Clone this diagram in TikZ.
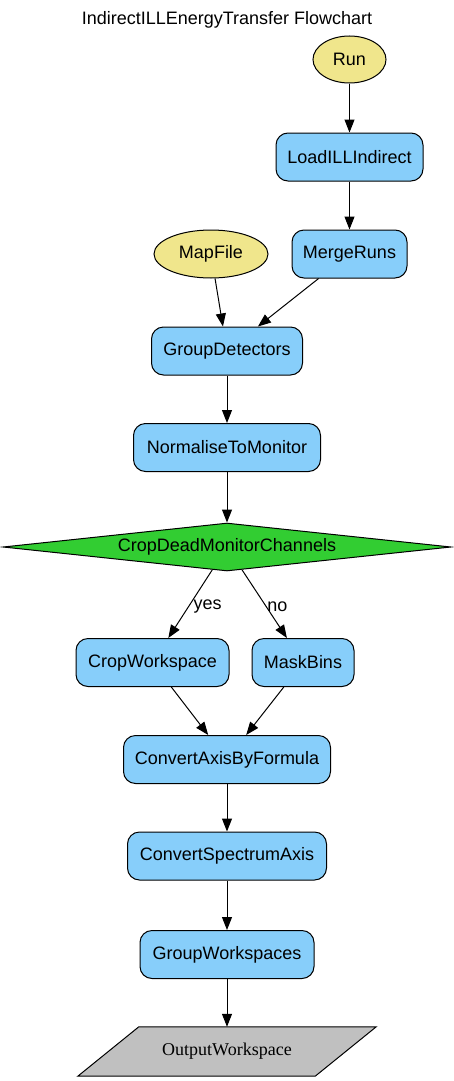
\documentclass[tikz,border=0pt]{standalone}
\usepackage{fontspec}
\setmainfont{Liberation Sans}
\newfontfamily\timesfont{Liberation Serif}
\usetikzlibrary{shapes.geometric,arrows.meta}
\definecolor{procblue}{HTML}{87CEFA}
\definecolor{inkhaki}{HTML}{F0E68C}
\definecolor{decgreen}{HTML}{32CD32}
\definecolor{outgray}{HTML}{C0C0C0}
\tikzset{
  every node/.style={font=\fontsize{18}{20}\selectfont},
  proc/.style={draw, line width=1pt, fill=procblue, rounded corners=12pt, minimum height=48pt, inner sep=0pt},
  inp/.style={draw, line width=1pt, fill=inkhaki, ellipse, inner sep=0pt},
  dec/.style={draw, line width=1pt, fill=decgreen, diamond, shape aspect=9.33, minimum width=448pt, minimum height=48pt, inner sep=0pt},
  conn/.style={line width=1pt, -{Triangle[length=13pt,width=10pt]}},
  elab/.style={font=\fontsize{18}{20}\selectfont, inner sep=1.5pt}
}
\begin{document}
\begin{tikzpicture}[x=1pt,y=-1pt]
\useasboundingbox (0,0) rectangle (454,1081);
\node (title) at (227,20) {IndirectILLEnergyTransfer Flowchart};
\node[inp, minimum width=73pt, minimum height=47pt] (run) at (349.5,59.5) {Run};
\node[proc, minimum width=147pt] (load) at (349.5,157) {LoadILLIndirect};
\node[proc, minimum width=115pt] (merge) at (349.5,254) {MergeRuns};
\node[inp, minimum width=114pt, minimum height=48pt] (map) at (211,254) {MapFile};
\node[proc, minimum width=151pt] (group) at (227,351) {GroupDetectors};
\node[proc, minimum width=187pt] (norm) at (227,447.5) {NormaliseToMonitor};
\node[dec] (crop) at (227,547) {CropDeadMonitorChannels};
\node[proc, minimum width=153pt] (cropws) at (152.5,662.5) {CropWorkspace};
\node[proc, minimum width=102pt] (mask) at (303,662.5) {MaskBins};
\node[proc, minimum width=207pt] (conv) at (227,759.5) {ConvertAxisByFormula};
\node[proc, minimum width=199pt] (spec) at (227,856) {ConvertSpectrumAxis};
\node[proc, minimum width=174pt] (gws) at (227,954.5) {GroupWorkspaces};
\node[minimum width=176pt, minimum height=49pt, inner sep=0pt] (out) at (227,1051.5) {};
\draw[line width=1pt, fill=outgray] (out.north west) -- ([xshift=61pt]out.north east) -- (out.south east) -- ([xshift=-61pt]out.south west) -- cycle;
\node[font=\timesfont\fontsize{18}{20}\selectfont] at (out.center) {OutputWorkspace};
\draw[conn] (run) -- (load);
\draw[conn] (load) -- (merge);
\draw[conn] (map) -- (group);
\draw[conn] (merge) -- (group);
\draw[conn] (group) -- (norm);
\draw[conn] (norm) -- (crop);
\draw[conn] (crop) -- node[elab, right, pos=0.54, xshift=3pt] {yes} (cropws);
\draw[conn] (crop) -- node[elab, right, pos=0.54, xshift=-1pt] {no} (mask);
\draw[conn] (cropws) -- (conv);
\draw[conn] (mask) -- (conv);
\draw[conn] (conv) -- (spec);
\draw[conn] (spec) -- (gws);
\draw[conn] (gws) -- (out.north);
\end{tikzpicture}
\end{document}
